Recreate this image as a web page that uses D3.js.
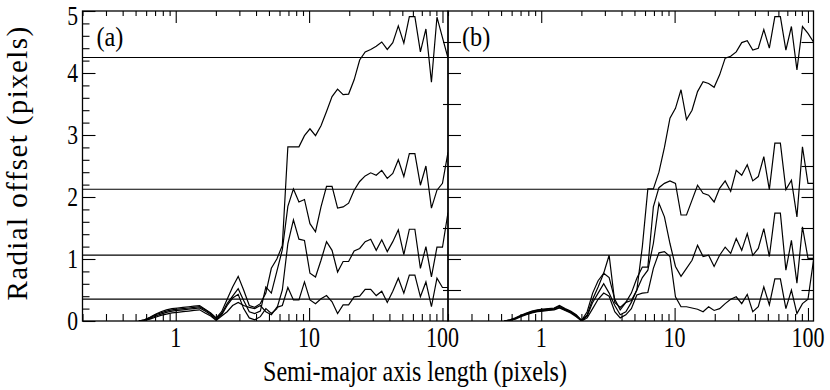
<!DOCTYPE html>
<html><head><meta charset="utf-8">
<script src="https://cdn.jsdelivr.net/npm/d3@7"></script>
<style>body{margin:0;background:#fff}svg{display:block}</style>
</head><body>
<svg id="c" width="830" height="390"></svg>
<script>
// Semi-major axis length (pixels) sample points
const xValues = [0.529, 0.582, 0.640, 0.704, 0.774, 0.852, 0.937, 1.031, 1.134, 1.25, 1.37, 1.51, 1.66, 1.83, 2.01, 2.21, 2.43, 2.67, 2.94, 3.23, 3.56, 3.91, 4.31, 4.74, 5.21, 5.73, 6.30, 6.93, 7.63, 8.39, 9.23, 10.15, 11.17, 12.28, 13.51, 14.86, 16.35, 17.99, 19.78, 21.76, 23.94, 26.33, 28.97, 31.86, 35.05, 38.55, 42.41, 46.65, 51.32, 56.45, 62.09, 68.30, 75.13, 82.64, 90.91, 100, 110];

// Panel (a) series
const a1 = [0, 0.02, 0.06, 0.11, 0.15, 0.18, 0.20, 0.21, 0.22, 0.23, 0.24, 0.25, 0.19, 0.13, 0.05, 0.15, 0.35, 0.55, 0.72, 0.50, 0.25, 0.22, 0.28, 0.45, 0.85, 1.0, 1.22, 2.81, 2.81, 2.81, 2.99, 3.1, 2.99, 3.15, 3.38, 3.62, 3.74, 3.65, 3.66, 3.89, 4.21, 4.34, 4.38, 4.43, 4.5, 4.38, 4.49, 4.76, 4.48, 4.91, 4.91, 4.34, 4.71, 3.85, 4.9, 4.57, 4.24];
const a2 = [0, 0.02, 0.05, 0.10, 0.13, 0.16, 0.18, 0.19, 0.20, 0.21, 0.22, 0.23, 0.18, 0.12, 0.04, 0.12, 0.28, 0.40, 0.52, 0.33, 0.15, 0.12, 0.16, 0.55, 0.45, 0.8, 1.15, 1.85, 2.13, 1.92, 1.96, 1.57, 1.44, 1.84, 2.17, 2.17, 1.82, 1.84, 1.9, 2.11, 2.25, 2.34, 2.39, 2.35, 2.43, 2.3, 2.38, 2.6, 2.33, 2.7, 2.7, 2.19, 2.5, 1.82, 2.11, 2.22, 2.72];
const a3 = [0, 0.01, 0.04, 0.08, 0.11, 0.14, 0.16, 0.17, 0.18, 0.19, 0.20, 0.21, 0.16, 0.10, 0.02, 0.10, 0.25, 0.37, 0.43, 0.20, 0.05, 0.02, 0.07, 0.2, 0.12, 0.2, 0.5, 1.25, 1.63, 1.32, 1.3, 0.77, 0.71, 0.98, 1.28, 1.14, 0.79, 0.96, 0.96, 1.13, 1.17, 1.28, 1.32, 1.14, 1.31, 1.12, 1.28, 1.47, 1.07, 1.48, 1.48, 0.85, 1.2, 0.71, 1.19, 1.19, 1.75];
const a4 = [0, 0.01, 0.03, 0.06, 0.09, 0.11, 0.13, 0.14, 0.15, 0.16, 0.17, 0.18, 0.13, 0.08, 0.01, 0.08, 0.15, 0.25, 0.30, 0.25, 0.22, 0.20, 0.25, 0.15, 0.1, 0.22, 0.25, 0.54, 0.34, 0.34, 0.63, 0.34, 0.28, 0.36, 0.41, 0.31, 0.12, 0.26, 0.26, 0.39, 0.4, 0.51, 0.51, 0.41, 0.48, 0.3, 0.48, 0.69, 0.45, 0.74, 0.74, 0.39, 0.63, 0.23, 0.69, 0.54, 0.54];

// Panel (b) series
const b1 = [0, 0.02, 0.05, 0.09, 0.13, 0.16, 0.18, 0.19, 0.20, 0.21, 0.25, 0.2, 0.16, 0.1, 0.01, 0.15, 0.45, 0.65, 0.77, 1.06, 0.3, 0.22, 0.3, 0.33, 0.5, 1.2, 2.13, 2.13, 2.4, 2.8, 3.27, 3.43, 3.73, 3.25, 3.4, 3.7, 3.86, 3.83, 3.77, 3.97, 4.24, 4.27, 4.34, 4.49, 4.52, 4.37, 4.4, 4.7, 4.4, 4.91, 4.91, 4.37, 4.75, 4.05, 4.75, 4.64, 4.5];
const b2 = [0, 0.02, 0.045, 0.085, 0.12, 0.15, 0.17, 0.18, 0.19, 0.2, 0.24, 0.19, 0.15, 0.09, 0.01, 0.1, 0.35, 0.55, 0.77, 0.7, 0.35, 0.18, 0.3, 0.45, 0.69, 0.87, 0.87, 1.84, 2.15, 2.22, 2.26, 2.22, 1.71, 1.71, 1.95, 2.19, 2.06, 2.03, 1.92, 2.14, 2.26, 2.09, 2.43, 2.35, 2.52, 2.26, 2.33, 2.65, 2.12, 2.87, 2.87, 2.12, 2.27, 1.68, 2.81, 2.22, 2.22];
const b3 = [0, 0.01, 0.04, 0.08, 0.11, 0.14, 0.16, 0.17, 0.18, 0.19, 0.22, 0.18, 0.14, 0.08, 0.0, 0.08, 0.3, 0.45, 0.6, 0.45, 0.25, 0.1, 0.15, 0.3, 0.5, 0.7, 0.82, 1.25, 1.9, 1.68, 1.25, 0.88, 0.72, 0.85, 0.98, 1.22, 1.04, 1.06, 0.88, 1.06, 1.19, 1.09, 1.33, 1.14, 1.41, 1.06, 1.17, 1.49, 1.04, 1.74, 1.74, 0.82, 1.3, 0.61, 1.52, 1.01, 1.01];
const b4 = [0, 0.01, 0.03, 0.07, 0.10, 0.13, 0.15, 0.16, 0.17, 0.18, 0.21, 0.17, 0.13, 0.07, 0.0, 0.05, 0.2, 0.35, 0.45, 0.4, 0.15, 0.05, 0.1, 0.2, 0.42, 0.45, 0.46, 0.85, 1.1, 1.12, 1.04, 0.39, 0.23, 0.23, 0.21, 0.19, 0.15, 0.23, 0.17, 0.2, 0.28, 0.35, 0.39, 0.28, 0.43, 0.15, 0.23, 0.55, 0.26, 0.68, 0.68, 0.2, 0.5, 0.12, 0.28, 0.35, 0.98];

// Horizontal reference levels
const refLevels = [0.354, 1.0625, 2.125, 4.25];

// Tick labels
const yTickLabels = [0, 1, 2, 3, 4, 5];
const xTickLabels = [1, 10, 100];
const panelLabels = ['(a)', '(b)'];

const xTitle = 'Semi-major axis length (pixels)';
const yTitle = 'Radial offset (pixels)';

const plotTop = 11, plotBottom = 321;
const svg = d3.select('#c');
const FONT = '"Liberation Serif", "Times New Roman", serif';
const SX = 0.76;

const y = d3.scaleLinear().domain([0, 5]).range([plotBottom, plotTop]);
const panels = [
  {left: 82.5, right: 448, series: [a1, a2, a3, a4], label: panelLabels[0]},
  {left: 448, right: 813.5, series: [b1, b2, b3, b4], label: panelLabels[1]}
];

const defs = svg.append('defs');

panels.forEach((p, pi) => {
  const x = d3.scaleLog().domain([0.2, 110]).range([p.left, p.right]);
  const g = svg.append('g');
  const clipId = 'clip' + pi;
  defs.append('clipPath').attr('id', clipId).append('rect')
    .attr('x', p.left).attr('y', plotTop).attr('width', p.right - p.left).attr('height', plotBottom - plotTop);

  const allTicks = x.ticks(20);
  const majors = allTicks.filter(t => xTickLabels.includes(t));
  const minors = allTicks.filter(t => !xTickLabels.includes(t));

  g.append('g').attr('transform', `translate(0,${plotBottom})`)
    .call(d3.axisBottom(x).tickValues(minors).tickSize(-7).tickFormat('').tickSizeOuter(0))
    .call(s => s.select('.domain').remove());
  g.append('g').attr('transform', `translate(0,${plotBottom})`)
    .call(d3.axisBottom(x).tickValues(majors).tickSize(-13).tickFormat('').tickSizeOuter(0))
    .call(s => s.select('.domain').remove());
  g.append('g').attr('transform', `translate(0,${plotTop})`)
    .call(d3.axisTop(x).tickValues(minors).tickSize(-5).tickFormat('').tickSizeOuter(0))
    .call(s => s.select('.domain').remove());
  g.append('g').attr('transform', `translate(0,${plotTop})`)
    .call(d3.axisTop(x).tickValues(majors).tickSize(-12).tickFormat('').tickSizeOuter(0))
    .call(s => s.select('.domain').remove());

  if (pi === 0) {
    const yMinor = d3.range(0, 5.001, 0.2).filter(v => Math.abs(v - Math.round(v)) > 1e-6);
    g.append('g').attr('transform', `translate(${p.left},0)`)
      .call(d3.axisLeft(y).tickValues(yMinor).tickSize(-7).tickFormat('').tickSizeOuter(0))
      .call(s => s.select('.domain').remove());
    g.append('g').attr('transform', `translate(${p.left},0)`)
      .call(d3.axisLeft(y).tickValues(yTickLabels).tickSize(-13).tickFormat('').tickSizeOuter(0))
      .call(s => s.select('.domain').remove());
    g.append('g').attr('transform', `translate(${p.right},0)`)
      .call(d3.axisRight(y).tickValues(d3.range(0.5, 5, 1)).tickSize(-5).tickFormat('').tickSizeOuter(0))
      .call(s => s.select('.domain').remove());
  } else {
    const yHalf = d3.range(0.5, 5, 0.5);
    g.append('g').attr('transform', `translate(${p.left},0)`)
      .call(d3.axisLeft(y).tickValues(yHalf).tickSize(-13).tickFormat('').tickSizeOuter(0))
      .call(s => s.select('.domain').remove());
    g.append('g').attr('transform', `translate(${p.right},0)`)
      .call(d3.axisRight(y).tickValues(yHalf).tickSize(-12).tickFormat('').tickSizeOuter(0))
      .call(s => s.select('.domain').remove());
  }
  g.selectAll('.tick line').attr('stroke', '#000').attr('stroke-width', 1.1);

  xTickLabels.forEach(v => {
    g.append('text')
      .attr('transform', `translate(${x(v)},347) scale(${SX},1)`)
      .attr('text-anchor', 'middle')
      .attr('font-family', FONT).attr('font-size', 29)
      .text(v);
  });

  const line = d3.line().x((d, i) => x(xValues[i])).y(d => y(d));
  const sg = g.append('g').attr('clip-path', `url(#${clipId})`);
  p.series.forEach(s => {
    sg.append('path').datum(s).attr('d', line)
      .attr('fill', 'none').attr('stroke', '#000').attr('stroke-width', 1.2)
      .attr('stroke-linejoin', 'miter');
  });

  g.append('text')
    .attr('transform', `translate(${p.left + 14},46) scale(0.9,1)`)
    .attr('font-family', FONT).attr('font-size', 27)
    .text(p.label);

  g.append('rect').attr('x', p.left).attr('y', plotTop)
    .attr('width', p.right - p.left).attr('height', plotBottom - plotTop)
    .attr('fill', 'none').attr('stroke', '#000').attr('stroke-width', 1.3);
});

svg.append('g').selectAll('line').data(refLevels).join('line')
  .attr('x1', panels[0].left).attr('x2', panels[1].right)
  .attr('y1', d => y(d)).attr('y2', d => y(d))
  .attr('stroke', '#000').attr('stroke-width', 1.2);

// y tick labels (kept fully inside the picture)
yTickLabels.forEach(v => {
  const base = Math.max(y(v) + 9, 24.5);
  svg.append('text')
    .attr('transform', `translate(78,${base}) scale(0.8,1)`)
    .attr('text-anchor', 'end')
    .attr('font-family', FONT).attr('font-size', 27)
    .text(v);
});

svg.append('text')
  .attr('transform', `translate(415,381) scale(0.83,1)`)
  .attr('text-anchor', 'middle')
  .attr('font-family', FONT).attr('font-size', 29)
  .text(xTitle);
svg.append('text')
  .attr('transform', `translate(26.5,163) rotate(-90)`)
  .attr('text-anchor', 'middle')
  .attr('font-family', FONT).attr('font-size', 29)
  .attr('letter-spacing', 1.4)
  .text(yTitle);
</script>
</body></html>
